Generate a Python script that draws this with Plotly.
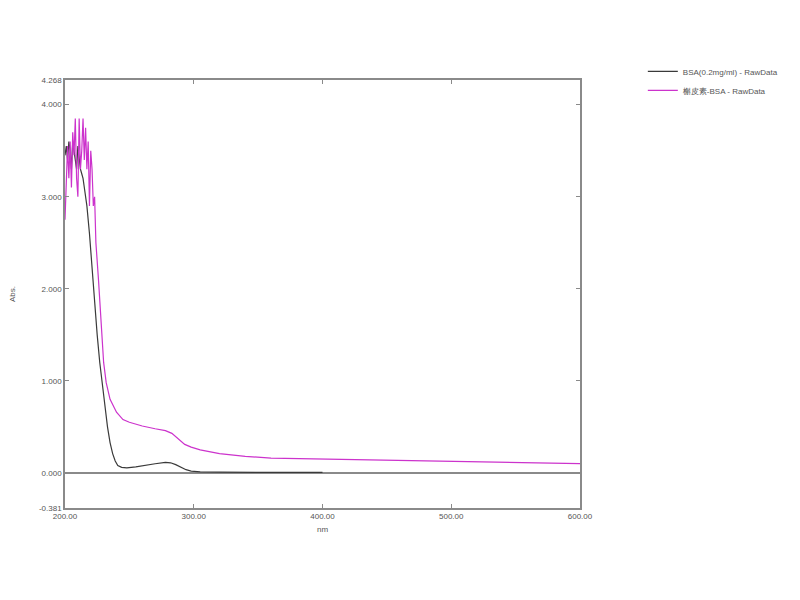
import plotly.graph_objects as go

# BSA (0.2 mg/ml) absorbance, 200-400 nm
bsa_nm = [200, 201, 202, 203, 204, 205, 206, 207, 208, 209, 210, 211, 212, 213,
          214, 215, 217, 219, 221, 223, 225, 227, 229, 231, 233, 235, 237, 239,
          241, 244, 248, 255, 262, 270, 278, 282, 286, 290, 294, 298, 305, 320,
          350, 400]
bsa_abs = [3.45, 3.55, 3.40, 3.60, 3.50, 3.30, 3.60, 3.50, 3.45, 3.30, 3.55, 3.40,
           3.30, 3.25, 3.20, 3.10, 2.90, 2.60, 2.20, 1.85, 1.50, 1.20, 0.95, 0.72,
           0.50, 0.33, 0.21, 0.13, 0.08, 0.06, 0.055, 0.065, 0.085, 0.10, 0.115,
           0.11, 0.09, 0.06, 0.035, 0.02, 0.012, 0.008, 0.005, 0.005]

# complex-BSA absorbance, 200-600 nm
cpx_nm = [200, 201, 202, 203, 204, 205, 206, 207, 208, 209, 210, 211, 212, 213,
          214, 215, 216, 217, 218, 219, 220, 221, 222, 223, 224, 226, 228, 230,
          232, 235, 240, 245, 250, 260, 270, 278, 283, 288, 293, 298, 305, 320,
          340, 360, 400, 450, 500, 550, 600]
cpx_abs = [2.75, 3.30, 3.55, 3.20, 3.60, 3.10, 3.70, 3.45, 3.85, 3.20, 3.00, 3.85,
           3.30, 3.50, 3.85, 3.40, 3.75, 3.30, 3.60, 2.90, 3.50, 3.30, 2.90, 3.00,
           2.50, 2.10, 1.60, 1.20, 0.98, 0.80, 0.66, 0.58, 0.55, 0.51, 0.48, 0.46,
           0.43, 0.37, 0.31, 0.28, 0.25, 0.21, 0.18, 0.16, 0.15, 0.13, 0.12, 0.11,
           0.10]

x_ticks = [200, 300, 400, 500, 600]
y_ticks = [-0.381, 0, 1, 2, 3, 4, 4.268]

fig = go.Figure()

fig.add_trace(go.Scatter(
    x=bsa_nm, y=bsa_abs,
    mode="lines",
    line=dict(color="#3a3a3a", width=1.2),
    name="BSA(0.2mg/ml) - RawData",
))

fig.add_trace(go.Scatter(
    x=cpx_nm, y=cpx_abs,
    mode="lines",
    line=dict(color="#cc33cc", width=1.2),
    name="槲皮素-BSA - RawData",
))

axis_common = dict(
    showline=True,
    linecolor="#8a8a8a",
    linewidth=1.5,
    mirror="ticks",
    ticks="inside",
    ticklen=4,
    tickcolor="#8a8a8a",
    showgrid=False,
    automargin=False,
    tickfont=dict(family="Liberation Sans, Arial", size=8, color="#555555"),
)

# the page body adds 8px, so margins are 8px smaller than the target positions
fig.update_layout(
    width=800,
    height=600,
    paper_bgcolor="white",
    plot_bgcolor="white",
    margin=dict(l=57, r=228, t=72, b=100),
    font=dict(family="Liberation Sans, Arial", size=8, color="#555555"),
    xaxis=dict(
        range=[200, 600],
        tickvals=x_ticks,
        ticktext=[f"{v:.2f}" for v in x_ticks],
        zeroline=False,
        title=dict(text="nm", standoff=6, font=dict(size=8)),
        **axis_common,
    ),
    yaxis=dict(
        range=[-0.381, 4.268],
        tickvals=y_ticks,
        ticktext=[f"{v:.3f}" for v in y_ticks],
        zeroline=True,
        zerolinecolor="#8a8a8a",
        zerolinewidth=1.5,
        title=dict(text="Abs.", standoff=39, font=dict(size=8)),
        **axis_common,
    ),
    legend=dict(
        x=1.122, y=1.054,
        xanchor="left", yanchor="top",
        bgcolor="rgba(0,0,0,0)",
        font=dict(size=8, color="#555555"),
        itemwidth=30,
        tracegroupgap=0,
    ),
    showlegend=True,
)

fig.write_html("out.html")
